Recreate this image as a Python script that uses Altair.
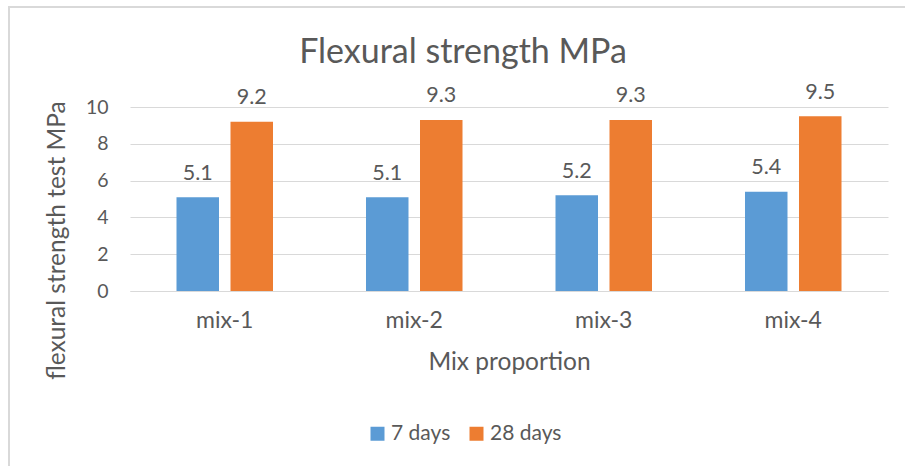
import altair as alt
import pandas as pd

mixes = ["mix-1", "mix-2", "mix-3", "mix-4"]
series = ["7 days", "28 days"]
days7 = [5.1, 5.1, 5.2, 5.4]
days28 = [9.2, 9.3, 9.3, 9.5]
colors = ["#5B9BD5", "#ED7D31"]
y_ticks = [0, 2, 4, 6, 8, 10]

rows = []
for m, a, b in zip(mixes, days7, days28):
    rows.append({"mix": m, "series": series[0], "value": a})
    rows.append({"mix": m, "series": series[1], "value": b})
df = pd.DataFrame(rows)

FONT = "Lato"
TXT = "#595959"
GRID = "#D9D9D9"

x_enc = alt.X(
    "mix:N",
    sort=mixes,
    scale=alt.Scale(paddingInner=0, paddingOuter=0),
    axis=alt.Axis(
        title="Mix proportion",
        labelAngle=0,
        labelFontSize=23,
        labelPadding=18,
        labelColor=TXT,
        labelFont=FONT,
        ticks=False,
        domain=True,
        domainColor=GRID,
        domainWidth=1,
        titleFontSize=24.5,
        titleFont=FONT,
        titleColor=TXT,
        titleFontWeight="normal",
        titleY=71,
        titleBaseline="middle",
        grid=False,
    ),
)
xoff_enc = alt.XOffset(
    "series:N",
    sort=series,
    scale=alt.Scale(domain=series, paddingInner=0.213, paddingOuter=0.861),
)
y_enc = alt.Y(
    "value:Q",
    scale=alt.Scale(domain=[0, 10], nice=False),
    axis=alt.Axis(
        title="flexural strength test MPa",
        values=y_ticks,
        labelOverlap=False,
        labelFontSize=19.5,
        labelPadding=22,
        labelColor=TXT,
        labelFont=FONT,
        ticks=False,
        domain=False,
        grid=True,
        gridColor=GRID,
        gridWidth=1,
        titleFontSize=24.5,
        titleFont=FONT,
        titleColor=TXT,
        titleFontWeight="normal",
        titleX=-73,
        titleY=133,
        titleAlign="center",
        titleBaseline="middle",
    ),
)

bars = alt.Chart(df).mark_bar().encode(
    x=x_enc,
    xOffset=xoff_enc,
    y=y_enc,
    color=alt.Color(
        "series:N",
        sort=series,
        scale=alt.Scale(domain=series, range=colors),
        legend=alt.Legend(
            title=None,
            orient="none",
            legendX=237,
            legendY=316,
            direction="horizontal",
            symbolType="square",
            symbolSize=196,
            symbolStrokeWidth=0,
            labelFontSize=21,
            labelFont=FONT,
            labelColor=TXT,
            labelOffset=3,
            columnPadding=15,
        ),
    ),
)

labels = alt.Chart(df).mark_text(
    dy=-17.5, baseline="alphabetic", fontSize=21.5, font=FONT, color=TXT
).encode(
    x=x_enc,
    xOffset=xoff_enc,
    y=y_enc,
    text=alt.Text("value:Q", format=".1f"),
)

border = alt.Chart(pd.DataFrame({"a": [0]})).mark_rect(
    fill="transparent", stroke=GRID, strokeWidth=2
).encode(
    x=alt.value(-121), x2=alt.value(900), y=alt.value(-100), y2=alt.value(500)
)

chart = (
    alt.layer(border, bars, labels)
    .properties(
        width=758,
        height=184,
        background="white",
        title=alt.TitleParams(
            "Flexural strength MPa",
            fontSize=34,
            font=FONT,
            color=TXT,
            fontWeight="normal",
            anchor="middle",
            dx=-46,
            dy=82,
            offset=18,
        ),
        autosize=alt.AutoSizeParams(type="none"),
        padding={"left": 130, "top": 107, "right": 17, "bottom": 175},
    )
    .configure_view(stroke="transparent", strokeWidth=0)
)

chart.save("out.html", embed_options={"renderer": "svg", "actions": False})
